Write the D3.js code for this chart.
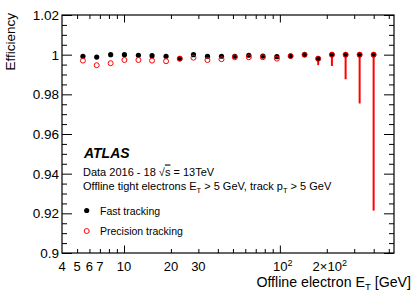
<!DOCTYPE html>
<html>
<head>
<meta charset="utf-8">
<script src="https://cdn.jsdelivr.net/npm/d3@7"></script>
<style>
  body { margin: 0; background: #fff; }
  text { font-family: "Liberation Sans", Arial, Helvetica, sans-serif; fill: #000; }
</style>
</head>
<body>
<script>
// offline electron E_T bin centres [GeV]
var etValues = [5.45, 6.68, 8.21, 10.06, 12.37, 15.13, 18.61, 22.79, 27.91, 34.32, 42.22,
                51.4, 63.2, 77.8, 95.7, 117.2, 144.1, 176.2, 215.8, 264.2, 325, 399.6];
// efficiency, fast tracking (black)
var fastEff = [0.9992, 0.9988, 1.0, 1.0, 0.9997, 0.9995, 0.9992, 0.998, 1.0, 0.9992, 0.9992,
               0.9992, 0.9997, 0.9993, 0.999, 0.9993, 1.0, 0.998, 1.0, 1.0, 1.0, 1.0];
// efficiency, precision tracking (red)
var precEff = [0.997, 0.9947, 0.9957, 0.9973, 0.9973, 0.997, 0.9967, 0.998, 0.9985, 0.9973, 0.9977,
               0.9987, 0.9987, 0.9987, 0.998, 0.9993, 1.0, 0.998, 1.0, 1.0, 1.0, 1.0];
// lower error of precision tracking
var precErrLow = [0, 0, 0, 0, 0, 0, 0, 0, 0, 0, 0,
                  0, 0, 0, 0, 0, 0, 0.0033, 0.0057, 0.0124, 0.0246, 0.0786];

var yTickValues = [0.9, 0.92, 0.94, 0.96, 0.98, 1, 1.02];
var yTickLabels = ["0.9", "0.92", "0.94", "0.96", "0.98", "1", "1.02"];
var xMajorTicks = [10, 100];
var xMinorTicks = [5, 6, 7, 8, 9, 20, 30, 40, 50, 60, 70, 80, 90, 200, 300, 400, 500];
var xLabelValues = [4, 5, 6, 7, 10, 20, 30, 100, 200];
var xLabelBase = ["4", "5", "6", "7", "10", "20", "30", "10", "2\u00d710"];
var xLabelExp = ["", "", "", "", "", "", "", "2", "2"];

var width = 415, height = 298;
var margin = {left: 62, right: 21, top: 15, bottom: 45};
var pw = width - margin.left - margin.right;
var ph = height - margin.top - margin.bottom;

var svg = d3.select("body").append("svg").attr("width", width).attr("height", height);

var x = d3.scaleLog().domain([4, 540]).range([0, pw]);
var y = d3.scaleLinear().domain([0.9, 1.02]).range([ph, 0]);

var g = svg.append("g").attr("transform", "translate(" + margin.left + "," + margin.top + ")");

// minor y ticks every 0.005
var yMinor = d3.range(0, 25).map(function(i){ return +(0.9 + i * 0.005).toFixed(3); })
  .filter(function(v){ return yTickValues.indexOf(v) < 0; });

function drawAxis(axis, tr) {
  var a = g.append("g").attr("transform", tr).call(axis);
  a.select(".domain").remove();
  a.selectAll("line").attr("stroke", "#000").attr("stroke-width", 1);
  a.selectAll("text").remove();
  return a;
}

drawAxis(d3.axisLeft(y).tickValues(yTickValues).tickSize(-10), "translate(0,0)");
drawAxis(d3.axisLeft(y).tickValues(yMinor).tickSize(-5), "translate(0,0)");
drawAxis(d3.axisRight(y).tickValues(yTickValues).tickSize(-10), "translate(" + pw + ",0)");
drawAxis(d3.axisRight(y).tickValues(yMinor).tickSize(-5), "translate(" + pw + ",0)");
drawAxis(d3.axisBottom(x).tickValues(xMajorTicks).tickSize(-7.5), "translate(0," + ph + ")");
drawAxis(d3.axisBottom(x).tickValues(xMinorTicks).tickSize(-4), "translate(0," + ph + ")");
drawAxis(d3.axisTop(x).tickValues(xMajorTicks).tickSize(-7.5), "translate(0,0)");
drawAxis(d3.axisTop(x).tickValues(xMinorTicks).tickSize(-4), "translate(0,0)");

// frame
g.append("rect").attr("x", 0).attr("y", 0).attr("width", pw).attr("height", ph)
  .attr("fill", "none").attr("stroke", "#000").attr("stroke-width", 1.2);

// y tick labels
g.selectAll(".ylab").data(yTickValues).enter().append("text")
  .attr("x", -3).attr("y", function(d){ return y(d); }).attr("dy", "0.36em")
  .attr("text-anchor", "end").style("font-size", "13.5px")
  .text(function(d, i){ return yTickLabels[i]; });

// x tick labels
var xl = g.selectAll(".xlab").data(xLabelValues).enter().append("text")
  .attr("x", function(d, i){ return x(d) + (xLabelExp[i] ? 3 : 0); }).attr("y", ph + 18)
  .attr("text-anchor", "middle").style("font-size", "13px");
xl.append("tspan").text(function(d, i){ return xLabelBase[i]; });
xl.append("tspan").attr("dy", "-5").style("font-size", "9px").text(function(d, i){ return xLabelExp[i]; });

// axis titles
svg.append("text").attr("transform", "translate(15,13) rotate(-90)")
  .attr("text-anchor", "end").style("font-size", "13.5px").text("Efficiency");

var xt = svg.append("text").attr("x", 411).attr("y", 287).attr("text-anchor", "end").style("font-size", "14.2px");
xt.append("tspan").text("Offline electron E");
xt.append("tspan").attr("dy", 3).style("font-size", "9.5px").text("T");
xt.append("tspan").attr("dy", -3).text(" [GeV]");

// error bars (precision tracking)
g.selectAll(".err").data(etValues).enter().append("line")
  .attr("x1", function(d){ return x(d); }).attr("x2", function(d){ return x(d); })
  .attr("y1", function(d, i){ return y(precEff[i]); })
  .attr("y2", function(d, i){ return y(precEff[i] - precErrLow[i]); })
  .attr("stroke", "#f00").attr("stroke-width", 2);

// fast tracking points
g.selectAll(".fast").data(etValues).enter().append("circle")
  .attr("cx", function(d){ return x(d); }).attr("cy", function(d, i){ return y(fastEff[i]); })
  .attr("r", 2.6).attr("fill", "#000");

// precision tracking points
g.selectAll(".prec").data(etValues).enter().append("circle")
  .attr("cx", function(d){ return x(d); }).attr("cy", function(d, i){ return y(precEff[i]); })
  .attr("r", 2.5).attr("fill", "none").attr("stroke", "#f00").attr("stroke-width", 1);

// labels
svg.append("text").attr("x", 84).attr("y", 158).style("font-size", "14px")
  .style("font-weight", "bold").style("font-style", "italic").text("ATLAS");

var t1 = svg.append("text").attr("x", 83).attr("y", 175.5).style("font-size", "11px");
t1.append("tspan").text("Data 2016 - 18 \u221a");
t1.append("tspan").style("text-decoration", "overline").text("s");
t1.append("tspan").text(" = 13TeV");

var t2 = svg.append("text").attr("x", 83).attr("y", 190).style("font-size", "11px");
t2.append("tspan").text("Offline tight electrons E");
t2.append("tspan").attr("dy", 2.5).style("font-size", "7.5px").text("T");
t2.append("tspan").attr("dy", -2.5).text(" > 5 GeV, track p");
t2.append("tspan").attr("dy", 2.5).style("font-size", "7.5px").text("T");
t2.append("tspan").attr("dy", -2.5).text(" > 5 GeV");

svg.append("circle").attr("cx", 86.7).attr("cy", 210.5).attr("r", 2.6).attr("fill", "#000");
svg.append("text").attr("x", 100).attr("y", 214.5).style("font-size", "10.5px").text("Fast tracking");
svg.append("circle").attr("cx", 86.7).attr("cy", 231).attr("r", 2.5)
  .attr("fill", "none").attr("stroke", "#f00").attr("stroke-width", 1);
svg.append("text").attr("x", 100).attr("y", 235).style("font-size", "10.5px").text("Precision tracking");
</script>
</body>
</html>
